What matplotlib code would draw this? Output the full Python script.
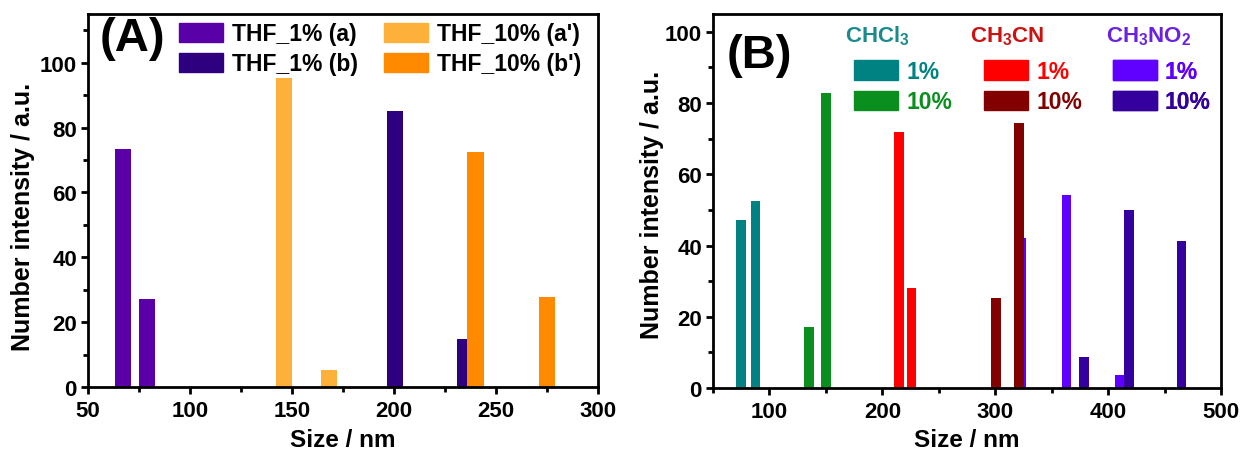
import matplotlib
matplotlib.use('Agg')
import matplotlib.pyplot as plt
from matplotlib.patches import Patch
from matplotlib.ticker import MultipleLocator

plt.rcParams['font.family'] = ['Liberation Sans', 'DejaVu Sans']
plt.rcParams['font.weight'] = 'bold'
plt.rcParams['mathtext.fontset'] = 'custom'
plt.rcParams['mathtext.bf'] = 'Liberation Sans:bold'
plt.rcParams['mathtext.rm'] = 'Liberation Sans:bold'
plt.rcParams['mathtext.default'] = 'bf'

# Panel A data (size in nm, number intensity)
thf1_a_size = [67, 79]
thf1_a_val = [73.3, 27.0]
thf10_a_size = [146, 168]
thf10_a_val = [95.2, 5.1]
thf1_b_size = [200.5, 235]
thf1_b_val = [85.1, 14.9]
thf10_b_size = [240, 275]
thf10_b_val = [72.4, 27.8]

# Panel B data
chcl3_1_size = [75, 87.8]
chcl3_1_val = [47.3, 52.6]
chcl3_10_size = [135.1, 150]
chcl3_10_val = [17.0, 82.9]
ch3cn_1_size = [214.9, 225.8]
ch3cn_1_val = [71.8, 28.2]
ch3cn_10_size = [300.9, 321]
ch3cn_10_val = [25.4, 74.4]
ch3no2_1_size = [323, 363.1, 410]
ch3no2_1_val = [42.0, 54.3, 3.6]
ch3no2_10_size = [378.4, 418.4, 465.1]
ch3no2_10_val = [8.7, 49.9, 41.3]

c_a, c_ap, c_b, c_bp = '#5a00a8', '#fdb03a', '#2e0080', '#ff8a00'
c_t1, c_t10 = '#008282', '#0a8f1e'
c_r1, c_r10 = '#ff0000', '#820000'
c_v1, c_v10 = '#6000ff', '#34009e'

fig = plt.figure(figsize=(12.44, 4.52), dpi=100)
W, H = 1244, 452
axA = fig.add_axes([88 / W, 1 - 388 / H, 510 / W, 373 / H])
axB = fig.add_axes([713 / W, 1 - 389 / H, 508 / W, 374 / H])

# ---- Panel A ----
wA = 8
axA.bar(thf1_a_size, thf1_a_val, width=wA, color=c_a)
axA.bar(thf10_a_size, thf10_a_val, width=wA, color=c_ap)
axA.bar(thf1_b_size, thf1_b_val, width=wA, color=c_b)
axA.bar(thf10_b_size, thf10_b_val, width=wA, color=c_bp)
axA.set_xlim(50, 300)
axA.set_ylim(0, 115)
axA.xaxis.set_major_locator(MultipleLocator(50))
axA.xaxis.set_minor_locator(MultipleLocator(25))
axA.yaxis.set_minor_locator(MultipleLocator(10))
axA.set_yticks([0, 20, 40, 60, 80, 100])

handlesA = [Patch(color=c_a, label='THF_1% (a)'), Patch(color=c_b, label='THF_1% (b)'),
            Patch(color=c_ap, label="THF_10% (a')"), Patch(color=c_bp, label="THF_10% (b')")]
axA.legend(handles=handlesA, ncol=2, loc='upper left', bbox_to_anchor=(0.178, 0.978),
           frameon=False, fontsize=16.5, handlelength=1.92, handleheight=0.92,
           handletextpad=0.39, columnspacing=1.15, labelspacing=0.31,
           borderpad=0, borderaxespad=0)
axA.text(0.022, 0.935, '(A)', transform=axA.transAxes, fontsize=34, fontweight='bold',
         va='center', ha='left')

# ---- Panel B ----
wB = 8.5
axB.bar(chcl3_1_size, chcl3_1_val, width=wB, color=c_t1)
axB.bar(chcl3_10_size, chcl3_10_val, width=wB, color=c_t10)
axB.bar(ch3cn_1_size, ch3cn_1_val, width=wB, color=c_r1)
axB.bar(ch3no2_1_size, ch3no2_1_val, width=wB, color=c_v1)
axB.bar(ch3cn_10_size, ch3cn_10_val, width=wB, color=c_r10)
axB.bar(ch3no2_10_size, ch3no2_10_val, width=wB, color=c_v10)
axB.set_xlim(50, 500)
axB.set_ylim(0, 105)
axB.xaxis.set_minor_locator(MultipleLocator(50))
axB.yaxis.set_minor_locator(MultipleLocator(10))
axB.set_xticks([100, 200, 300, 400, 500])
axB.set_yticks([0, 20, 40, 60, 80, 100])

groups = [('CHCl$_3$', '#1a8a8a', c_t1, c_t10, 0.260, 0.2776),
          ('CH$_3$CN', '#cc1111', c_r1, c_r10, 0.506, 0.5335),
          ('CH$_3$NO$_2$', '#6a22e0', c_v1, c_v10, 0.774, 0.787)]
for title, tcol, col1, col10, xt, xl in groups:
    axB.text(xt, 0.928, title, transform=axB.transAxes, fontsize=16, fontweight='bold',
             color=tcol, ha='left', va='baseline')
    leg = axB.legend(handles=[Patch(color=col1, label='1%'), Patch(color=col10, label='10%')],
                     loc='upper left', bbox_to_anchor=(xl, 0.877),
                     frameon=False, fontsize=16.5, handlelength=1.92, handleheight=0.92,
                     handletextpad=0.35, labelspacing=0.31, borderpad=0, borderaxespad=0)
    for txt, c in zip(leg.get_texts(), [col1, col10]):
        txt.set_color(c)
    axB.add_artist(leg)
axB.text(0.026, 0.89, '(B)', transform=axB.transAxes, fontsize=34, fontweight='bold',
         va='center', ha='left')

label_pos = {axA: (-0.127, 0.458, -(447 - 388) / 373), axB: (-0.12, 0.492, -(447 - 389) / 374)}
for ax in (axA, axB):
    yx, yy, xy = label_pos[ax]
    ax.set_xlabel('Size / nm', fontsize=17.5, fontweight='bold', va='baseline')
    ax.xaxis.set_label_coords(0.5, xy)
    ax.set_ylabel('Number intensity / a.u.', fontsize=18, fontweight='bold', va='center')
    ax.yaxis.set_label_coords(yx, yy)
    ax.tick_params(which='major', direction='out', length=5, width=2, labelsize=16)
    ax.tick_params(which='minor', direction='out', length=3.5, width=2)
    ax.tick_params(axis='x', which='major', pad=4.5)
    ax.tick_params(axis='y', which='major', pad=3)
    for sp in ax.spines.values():
        sp.set_linewidth(2)
    for lab in ax.get_xticklabels() + ax.get_yticklabels():
        lab.set_fontweight('bold')

fig.savefig('out.png', dpi=100)
